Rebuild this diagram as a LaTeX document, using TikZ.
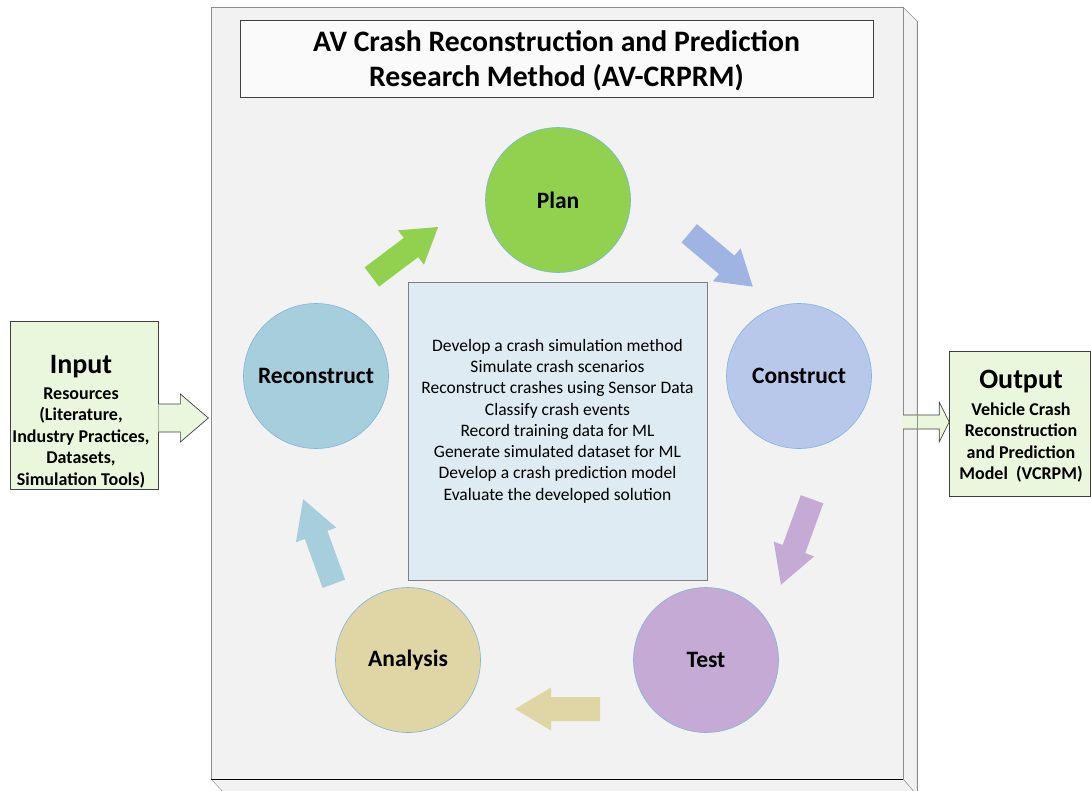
\documentclass[tikz,border=0pt]{standalone}
\usepackage{fontspec}
\setmainfont{Carlito}
\usetikzlibrary{positioning,calc}

\definecolor{frameFill}{HTML}{F2F2F2}
\definecolor{frameEdge}{HTML}{8C8C8C}
\definecolor{darkEdge}{HTML}{404040}
\definecolor{noteFill}{HTML}{DEEBF3}
\definecolor{noteEdge}{HTML}{7F7F7F}
\definecolor{ioFill}{HTML}{EBF7DC}
\definecolor{circEdge}{HTML}{7EB6DA}
\definecolor{planGreen}{HTML}{92D050}
\definecolor{constructBlue}{HTML}{B8C8EA}
\definecolor{arrowBlue}{HTML}{9FB4E2}
\definecolor{testPurple}{HTML}{C6AAD6}
\definecolor{analysisTan}{HTML}{E0D5A4}
\definecolor{reconBlue}{HTML}{A6CEDC}

\tikzset{
  stage/.style={circle, draw=circEdge, line width=0.6pt, minimum size=145pt, inner sep=0pt,
    font=\fontsize{23.5}{27}\selectfont\bfseries},
  pics/flowarrow/.style args={#1/#2}{code={
    \fill[pic actions] ({-#1/2},-12) -- ({#1/2-#2},-12) -- ({#1/2-#2},-21.5) -- ({#1/2},0)
      -- ({#1/2-#2},21.5) -- ({#1/2-#2},12) -- ({-#1/2},12) -- cycle;}},
  iobox/.style={draw=darkEdge, line width=0.7pt, fill=ioFill, inner sep=0pt},
  ioarrow/.style={draw=darkEdge, line width=0.7pt, fill=ioFill},
  iohead/.style={font=\fontsize{28}{30}\selectfont\bfseries},
  iotext/.style={align=center, font=\fontsize{18}{21.6}\selectfont\bfseries}
}

\begin{document}
\begin{tikzpicture}[x=1pt, y=-1pt]
\useasboundingbox (0,0) rectangle (1091,790);

% the 3d frame
\draw[frameEdge, fill=frameFill] (903,7) -- (917,21) -- (917,795) -- (903,779) -- cycle;
\draw[frameEdge, fill=frameFill] (211,779) -- (226,795) -- (917,795) -- (903,779) -- cycle;
\node[draw=frameEdge, fill=frameFill, minimum width=692pt, minimum height=772pt, inner sep=0pt] (frame) at (557,393) {};
\draw[black] (frame.south west) -- (frame.south east);

\node[draw=darkEdge, line width=0.7pt, fill=white!60!frameFill, minimum width=633pt, minimum height=77pt] (titlebox) at (556.5,58.5) {};
\node[align=center, font=\fontsize{29.7}{35.5}\selectfont\bfseries] (title) at ($(titlebox.center)+(0,2.5)$)
  {AV Crash Reconstruction and Prediction\\Research Method (AV-CRPRM)};

% tasks in the middle
\node[draw=noteEdge, line width=0.7pt, fill=noteFill, minimum width=299pt, minimum height=298pt] (tasks) at (557.5,431) {};
\node[align=center, font=\fontsize{17.5}{21.3}\selectfont] (tasklist) at ($(tasks.center)+(0,-10)$) {
  Develop a crash simulation method\\
  Simulate crash scenarios\\
  Reconstruct crashes using Sensor Data\\
  Classify crash events\\
  Record training data for ML\\
  Generate simulated dataset for ML\\
  Develop a crash prediction model\\
  Evaluate the developed solution};

% the cycle
\node[stage, fill=planGreen] (plan) at (558,200) {Plan};
\node[stage, fill=constructBlue] (construct) at (799,376) {Construct};
\node[stage, fill=testPurple] (test) at (706,660) {Test};
\node[stage, fill=analysisTan] (analysis) at (408,660) {Analysis};
\node[stage, fill=reconBlue] (reconstruct) at (316,376) {Reconstruct};

\pic[fill=planGreen, rotate=37] (toPlan) at (405,252) {flowarrow=83/34};
\pic[fill=arrowBlue, rotate=-40] (toConstruct) at (721,260) {flowarrow=83/34};
\pic[fill=testPurple, rotate=-110] (toTest) at (796.5,542) {flowarrow=91/38};
\pic[fill=analysisTan, rotate=180] (toAnalysis) at (557.5,709) {flowarrow=85/36};
\pic[fill=reconBlue, rotate=110] (toReconstruct) at (318.5,541.5) {flowarrow=90/38};

% input
\node[iobox, minimum width=148pt, minimum height=168pt] (input) at (84,405) {};
\coordinate (inStart) at (input.east |- 0,418);
\draw[ioarrow] (inStart) ++(0,-14) -- ++(22,0) -- ++(0,-10) -- ++(28,24)
  -- ++(-28,24) -- ++(0,-10) -- ++(-22,0);
\node[iohead] (inputHead) at (81,367) {Input};
\node[iotext, below=2pt of inputHead] (inputBody)
  {Resources\\(Literature,\\Industry Practices,\\Datasets,\\Simulation Tools)};

% output
\coordinate (outStart) at (frame.east |- 0,422);
\draw[ioarrow] (outStart) ++(0,-7) -- ++(36,0) -- ++(0,-13) -- ++(10,20)
  -- ++(-10,20) -- ++(0,-13) -- ++(-36,0);
\draw[frameEdge] (917,21) -- (917,795);
\node[iobox, minimum width=141pt, minimum height=145pt] (output) at (1019.5,423.5) {};
\node[iohead] (outputHead) at (1021,382) {Output};
\node[iotext, below=2pt of outputHead] (outputBody)
  {Vehicle Crash\\Reconstruction\\and Prediction\\Model~~(VCRPM)};
\end{tikzpicture}
\end{document}
